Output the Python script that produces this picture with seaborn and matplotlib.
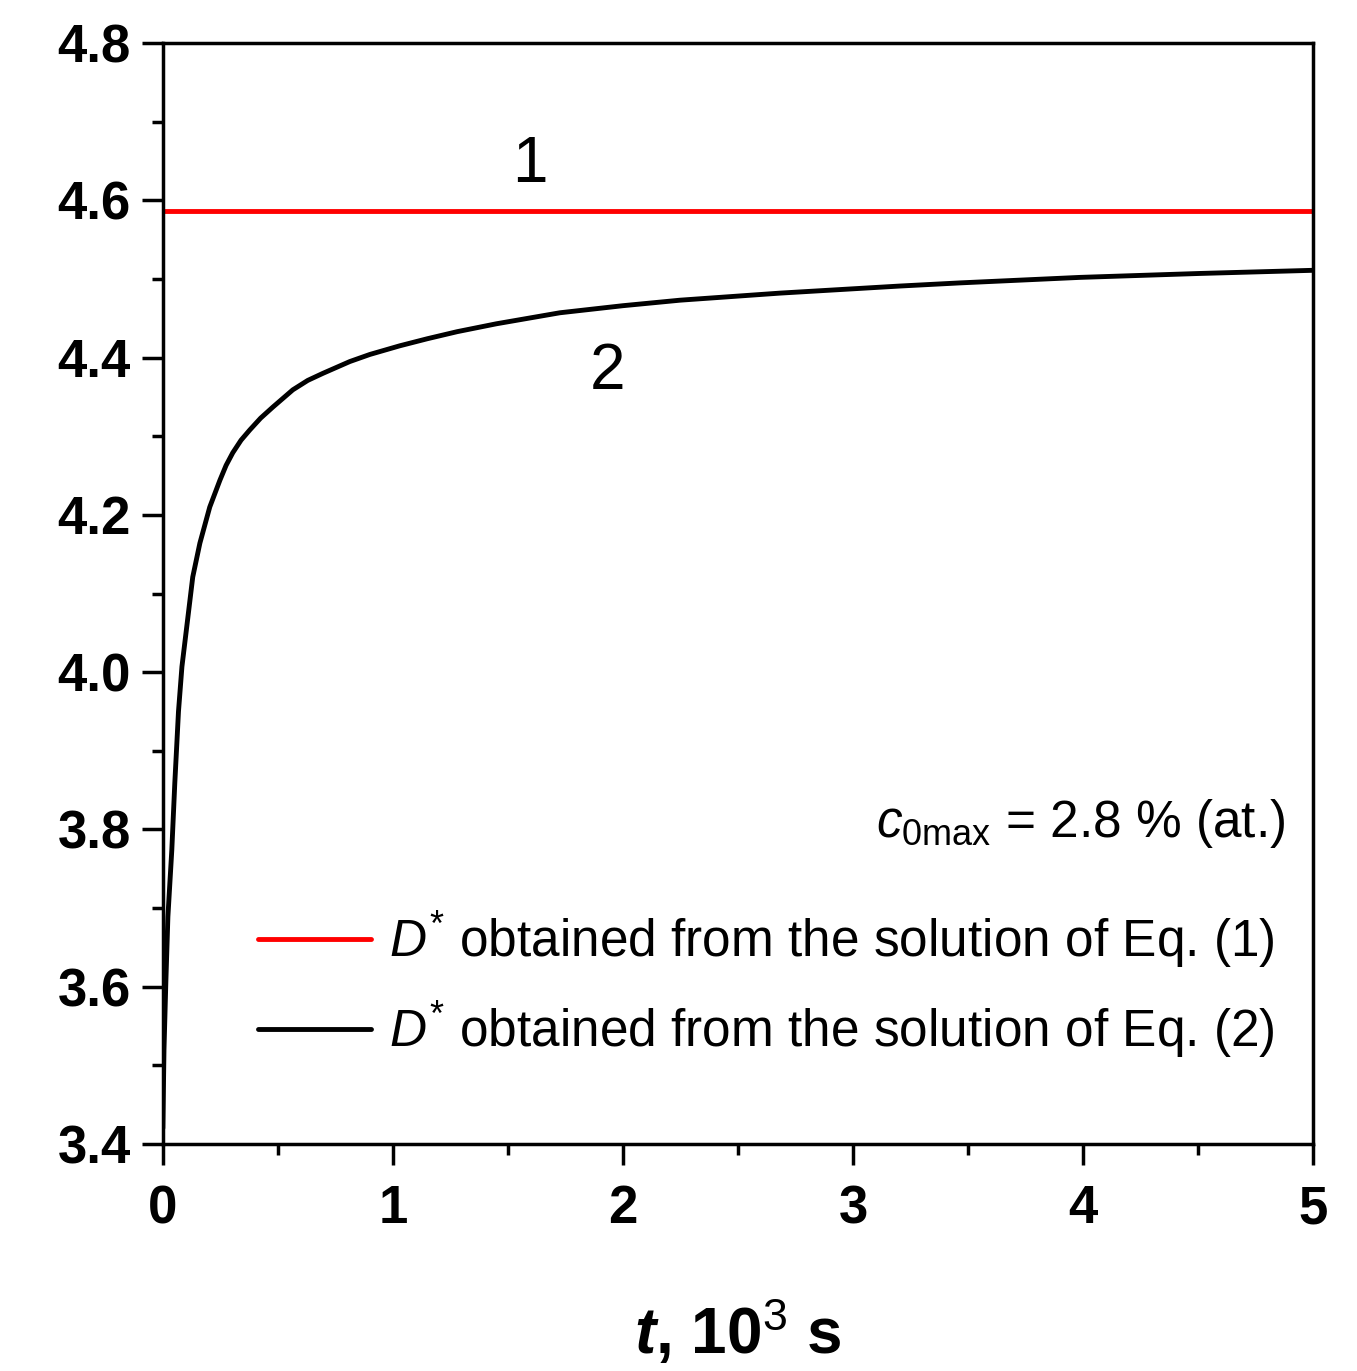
import matplotlib
matplotlib.use("Agg")
import matplotlib.pyplot as plt
from matplotlib.ticker import MultipleLocator
import seaborn as sns

# values
t_eq1 = [0.0, 5.0]
D_eq1 = [4.586, 4.586]

t_eq2 = [0.0, 0.005, 0.013, 0.022, 0.039, 0.052, 0.068, 0.083, 0.109, 0.130,
         0.161, 0.204, 0.248, 0.275, 0.304, 0.340, 0.378, 0.425, 0.478, 0.565,
         0.630, 0.696, 0.813, 0.900, 1.030, 1.150, 1.280, 1.450, 1.726, 2.000,
         2.248, 2.683, 3.204, 3.465, 3.987, 4.509, 5.0]
D_eq2 = [3.42, 3.52, 3.605, 3.689, 3.774, 3.859, 3.95, 4.007, 4.070, 4.121,
         4.164, 4.210, 4.244, 4.263, 4.279, 4.295, 4.308, 4.323, 4.337, 4.359,
         4.371, 4.380, 4.395, 4.404, 4.415, 4.424, 4.433, 4.443, 4.457, 4.466,
         4.473, 4.482, 4.491, 4.495, 4.502, 4.507, 4.511]

label_eq1 = r"$D^{*}$ obtained from the solution of Eq. (1)"
label_eq2 = r"$D^{*}$ obtained from the solution of Eq. (2)"
x_ticks = [0, 1, 2, 3, 4, 5]
y_ticks = [3.4, 3.6, 3.8, 4.0, 4.2, 4.4, 4.6, 4.8]

sns.set_style("ticks")
plt.rcParams["font.family"] = ["Liberation Sans", "DejaVu Sans"]
plt.rcParams["mathtext.fontset"] = "custom"
plt.rcParams["mathtext.rm"] = "Liberation Sans"
plt.rcParams["mathtext.it"] = "Liberation Sans:italic"
plt.rcParams["mathtext.bf"] = "Liberation Sans:bold"
plt.rcParams["mathtext.bfit"] = "Liberation Sans:italic:bold"
for key in ["text.color", "axes.labelcolor", "xtick.color", "ytick.color",
            "axes.edgecolor"]:
    plt.rcParams[key] = "black"

fig = plt.figure(figsize=(13.57, 13.71), dpi=100)
ax = fig.add_axes([0.120, 0.1656, 0.8476, 0.8030])

sns.lineplot(x=t_eq1, y=D_eq1, color="#ff0000", lw=3.5, label=label_eq1, ax=ax)
sns.lineplot(x=t_eq2, y=D_eq2, color="black", lw=3.5, label=label_eq2, ax=ax)

ax.set_xlim(0, 5)
ax.set_ylim(3.4, 4.8)
ax.set_xticks(x_ticks)
ax.set_yticks(y_ticks)
ax.set_xticklabels([str(v) for v in x_ticks])
ax.set_yticklabels([f"{v:.1f}" for v in y_ticks])
ax.xaxis.set_minor_locator(MultipleLocator(0.5))
ax.yaxis.set_minor_locator(MultipleLocator(0.1))

for s in ax.spines.values():
    s.set_linewidth(2.5)
    s.set_visible(True)
ax.tick_params(which="major", direction="out", length=15, width=2.5,
               labelsize=38, pad=8)
ax.tick_params(axis="x", which="major", pad=14)
ax.tick_params(which="minor", direction="out", length=8, width=2.5)
ax.tick_params(top=False, right=False, which="both")
for lab in ax.get_xticklabels() + ax.get_yticklabels():
    lab.set_fontweight("bold")

ax.set_xlabel(r"$\mathbfit{t}$, 10$^{3}$ s", fontsize=46, fontweight="bold",
              labelpad=45)
ax.set_ylabel("")

ax.text(1.596, 4.645, "1", fontsize=46, ha="center", va="center")
ax.text(1.935, 4.382, "2", fontsize=46, ha="center", va="center")
ax.text(4.88, 3.79, r"$c_{\mathrm{0max}}$ = 2.8 % (at.)", fontsize=37,
        ha="right", va="baseline")

ax.legend(loc="center left", bbox_to_anchor=(0.0826, 0.1444), frameon=False,
          fontsize=37, handlelength=2.2, handletextpad=0.35, labelspacing=0.55,
          borderpad=0, borderaxespad=0)

fig.savefig("out.png", dpi=100)
